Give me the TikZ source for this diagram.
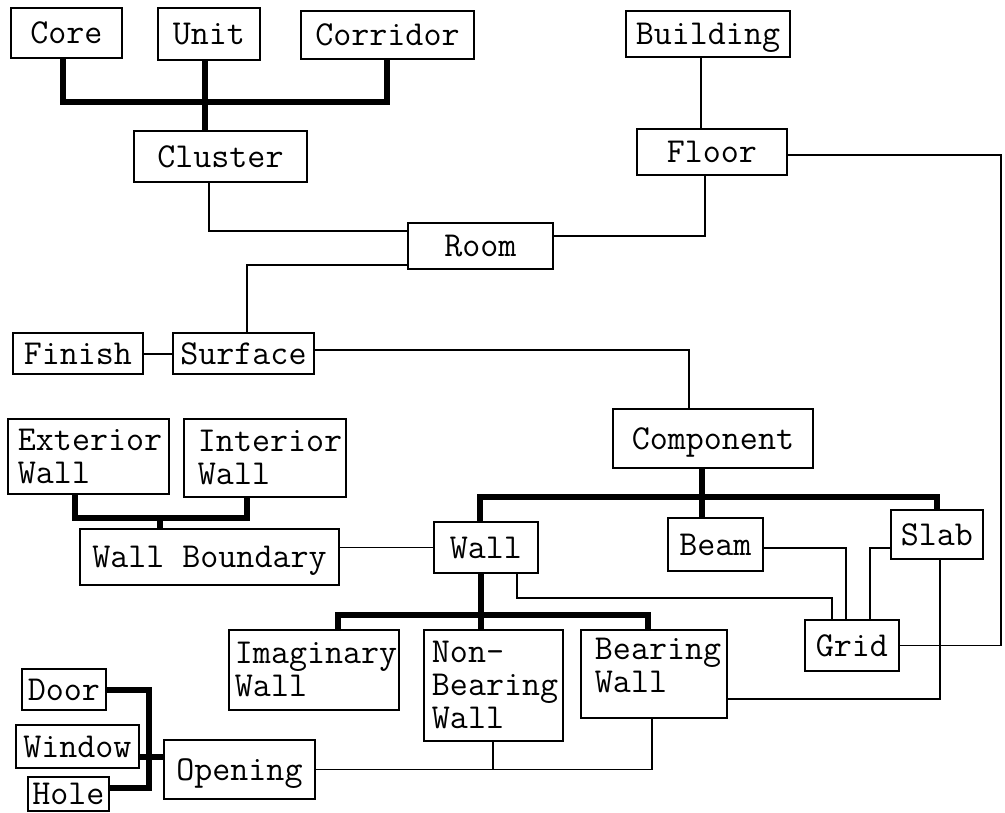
\documentclass[tikz,border=0pt]{standalone}
\usepackage{fontspec}
\usetikzlibrary{calc}
\begin{document}
\begin{tikzpicture}[x=1pt,y=-1pt,
  box/.style={draw, line width=1.9pt, anchor=north west, inner sep=0pt,
    font=\ttfamily\fontsize{35}{33}\selectfont},
  sbox/.style={box, text height=21.4pt, text depth=0pt},
  mbox/.style={box, align=left},
  cn/.style={line width=1.9pt},
  bus/.style={line width=5.5pt},
]
\fill[white] (0,0) rectangle (1005,813);
\useasboundingbox (0,0) rectangle (1005,813);

% nodes
\node[sbox, minimum width=111pt, minimum height=50pt] (core) at (10,7) {Core};
\node[sbox, minimum width=102pt, minimum height=52pt] (unit) at (157,7) {Unit};
\node[sbox, minimum width=173pt, minimum height=48pt] (corridor) at (300,10) {Corridor};
\node[sbox, minimum width=173pt, minimum height=51pt] (cluster) at (133,130) {Cluster};
\node[sbox, minimum width=145pt, minimum height=46pt] (room) at (407,222) {Room};
\node[sbox, minimum width=164pt, minimum height=46pt] (building) at (625,10) {Building};
\node[sbox, minimum width=150pt, minimum height=46pt] (floor) at (636,128) {Floor};
\node[sbox, minimum width=130pt, minimum height=41pt] (finish) at (12,332) {Finish};
\node[sbox, minimum width=141pt, minimum height=41pt] (surface) at (172,332) {Surface};
\node[sbox, minimum width=200pt, minimum height=59pt] (component) at (612,408) {Component};
\node[mbox, minimum width=161pt, minimum height=75pt, text width=141pt] (extwall) at (7,418) {Exterior\\Wall};
\node[mbox, minimum width=162pt, minimum height=78pt, text width=134pt] (intwall) at (183,418) {Interior\\Wall};
\node[sbox, minimum width=259pt, minimum height=56pt] (wallbnd) at (79,528) {Wall Boundary};
\node[sbox, minimum width=104pt, minimum height=51pt] (wall) at (433,521) {Wall};
\node[sbox, minimum width=95pt, minimum height=53pt] (beam) at (667,517) {Beam};
\node[sbox, minimum width=92pt, minimum height=49pt] (slab) at (890,509) {Slab};
\node[sbox, minimum width=94pt, minimum height=51pt] (grid) at (804,619) {Grid};
\node[mbox, minimum width=170pt, minimum height=80pt, text width=158pt] (imag) at (228,629) {Imaginary\\Wall};
\node[mbox, minimum width=139pt, minimum height=111pt, text width=123pt] (nonbear) at (423,629) {Non-\\Bearing\\Wall};
\node[box, minimum width=146pt, minimum height=88pt] (bearing) at (580,629)
  {\parbox[c][72pt][t]{118pt}{Bearing\\Wall}};
\node[sbox, minimum width=84pt, minimum height=41pt] (door) at (21,668) {Door};
\node[sbox, minimum width=123pt, minimum height=43pt] (window) at (15,724) {Window};
\node[sbox, minimum width=81pt, minimum height=34pt] (hole) at (27,776) {Hole};
\node[sbox, minimum width=151pt, minimum height=59pt] (opening) at (163,739) {Opening};

% top bus
\draw[bus] ($(core.south west)+(53,0)$) |- ($(corridor.south west)+(87,42)$) -- ($(corridor.south west)+(87,0)$);
\draw[bus] ($(unit.south west)+(48,0)$) coordinate (u) -- (u |- cluster.north);

% thin links
\draw[cn] ($(cluster.south west)+(76,0)$) |- ($(room.north west)+(0,9)$);
\draw[cn] ($(room.north east)+(0,14)$) -| ($(floor.south west)+(69,0)$);
\draw[cn] ($(building.south west)+(76,0)$) coordinate (bf) -- (bf |- floor.north);
\draw[cn] ($(room.south west)+(0,-5)$) -| ($(surface.north west)+(75,0)$);
\draw[cn] ($(finish.north east)+(0,22)$) -- ($(surface.north west)+(0,22)$);
\draw[cn] ($(surface.north east)+(0,18)$) -| ($(component.north west)+(77,0)$);
\coordinate (re) at (1001,0);
\draw[cn] ($(floor.north east)+(0,27)$) -| (re |- grid.east) -- (grid.east);

% component bus
\draw[bus] ($(component.south west)+(90,0)$) coordinate (c) -- (c |- beam.north);
\draw[bus] ($(wall.north west)+(47,0)$) |- ($(slab.north west)+(47,-12)$) -- ($(slab.north west)+(47,0)$);

% exterior / interior bus
\draw[bus] ($(extwall.south west)+(68,0)$) |- ($(intwall.south west)+(64,20)$) coordinate (ib) -- ($(intwall.south west)+(64,0)$);
\draw[bus] ($(wallbnd.north west)+(81,0)$) coordinate (wb) -- (wb |- ib);

\draw[cn] (wall.west) -- (wall.west -| wallbnd.east);

% wall bus
\draw[bus] ($(imag.north west)+(110,0)$) |- ($(bearing.north west)+(68,-14)$) -- ($(bearing.north west)+(68,0)$);
\draw[bus] ($(wall.south west)+(48,0)$) coordinate (w) -- (w |- nonbear.north);

% grid links
\draw[cn] ($(wall.south west)+(84,0)$) |- ($(grid.north west)+(28,-21)$) -- ($(grid.north west)+(28,0)$);
\draw[cn] ($(beam.north east)+(0,31)$) -| ($(grid.north west)+(42,0)$);
\draw[cn] ($(slab.north west)+(0,39)$) -| ($(grid.north west)+(66,0)$);
\draw[cn] ($(slab.south west)+(50,0)$) |- ($(bearing.south east)+(0,-20)$);

% opening links
\draw[cn] ($(bearing.south west)+(72,0)$) |- (opening.east);
\draw[cn] ($(nonbear.south west)+(70,0)$) coordinate (nb) -- (nb |- opening.east);

% door / window / hole bus
\draw[bus] ($(door.north east)+(0,22)$) -| ($(hole.north east)+(39,12)$) -- ($(hole.north east)+(0,12)$);
\draw[bus] ($(window.north east)+(0,33)$) -- ($(opening.north west)+(0,18)$);
\end{tikzpicture}
\end{document}
